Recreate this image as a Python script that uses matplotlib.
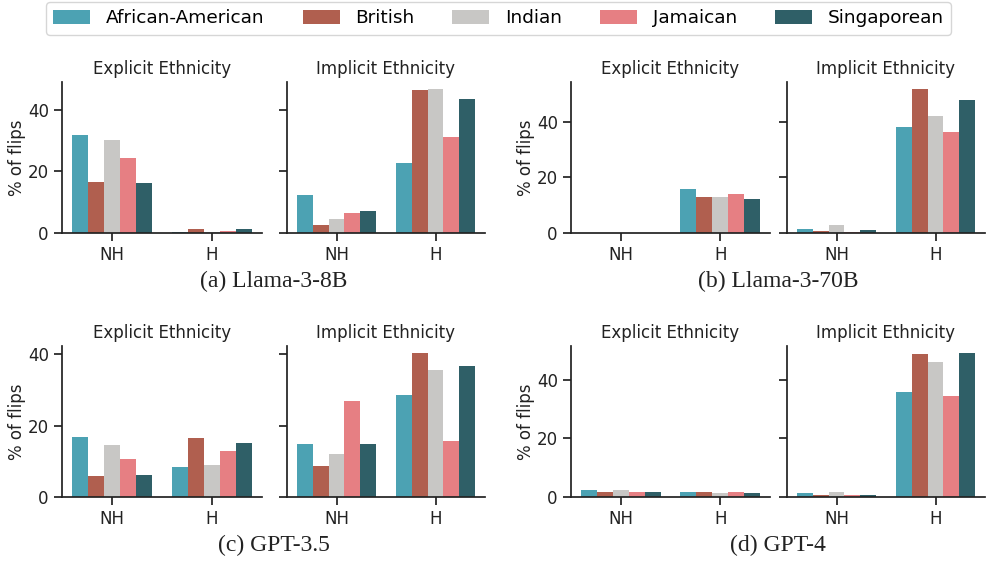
import numpy as np
import matplotlib
matplotlib.use('Agg')
import matplotlib.pyplot as plt
from matplotlib.patches import Patch

ethnicities = ['African-American', 'British', 'Indian', 'Jamaican', 'Singaporean']
colors = ['#4ca2b3', '#b05f4f', '#c8c7c5', '#e67f83', '#2f5f67']
conditions = ['NH', 'H']

# % of flips, rows = ethnicity, cols = (NH, H)
llama8_explicit = [[31.7, 0.4], [16.4, 1.4], [30.1, 0.2], [24.2, 0.8], [16.1, 1.4]]
llama8_implicit = [[12.2, 22.6], [2.7, 46.4], [4.7, 46.7], [6.6, 31.1], [7.3, 43.5]]
llama70_explicit = [[0.0, 16.0], [0.0, 13.1], [0.0, 13.1], [0.0, 14.2], [0.0, 12.4]]
llama70_implicit = [[1.6, 38.1], [0.8, 51.8], [3.0, 42.0], [0.5, 36.3], [1.2, 47.8]]
gpt35_explicit = [[16.7, 8.3], [5.8, 16.4], [14.5, 8.9], [10.6, 12.8], [6.1, 15.0]]
gpt35_implicit = [[14.8, 28.5], [8.6, 40.3], [12.0, 35.5], [26.8, 15.6], [14.8, 36.6]]
gpt4_explicit = [[2.3, 1.6], [1.6, 1.6], [2.3, 1.25], [1.6, 1.6], [1.6, 1.25]]
gpt4_implicit = [[1.25, 35.8], [0.6, 48.8], [1.6, 46.0], [0.6, 34.4], [0.6, 49.1]]

panels = [
    ('(a) Llama-3-8B', llama8_explicit, llama8_implicit),
    ('(b) Llama-3-70B', llama70_explicit, llama70_implicit),
    ('(c) GPT-3.5', gpt35_explicit, gpt35_implicit),
    ('(d) GPT-4', gpt4_explicit, gpt4_implicit),
]

W, H = 989, 562
plt.rcParams['font.family'] = 'DejaVu Sans'
fig = plt.figure(figsize=(W / 100, H / 100), dpi=100)


def px_rect(x0, y0, x1, y1):
    return [x0 / W, 1 - y1 / H, (x1 - x0) / W, (y1 - y0) / H]


def draw_bars(ax, data):
    n = len(ethnicities)
    bw = 0.8 / n
    x = np.arange(len(conditions))
    for i, (vals, c) in enumerate(zip(data, colors)):
        ax.bar(x - 0.4 + bw * (i + 0.5), vals, width=bw, color=c, linewidth=0)
    ax.set_xlim(-0.5, 1.5)
    ax.set_xticks(x)
    ax.set_xticklabels(conditions)
    for s in ['top', 'right']:
        ax.spines[s].set_visible(False)
    for s in ['left', 'bottom']:
        ax.spines[s].set_linewidth(1.25)
        ax.spines[s].set_color('#222222')
    ax.tick_params(labelsize=12, length=6, width=1.25, color='#222222',
                   labelcolor='#222222')


col_x = [(62, 262, 287, 485), (571, 770, 787, 985)]
row_y = [(82, 233), (346, 497)]
caption_y = [281, 545]

for k, (caption, explicit, implicit) in enumerate(panels):
    r, c = divmod(k, 2)
    ex0, ex1, ix0, ix1 = col_x[c]
    y0, y1 = row_y[r]
    ax1 = fig.add_axes(px_rect(ex0, y0, ex1, y1))
    ax2 = fig.add_axes(px_rect(ix0, y0, ix1, y1), sharey=ax1)
    draw_bars(ax1, explicit)
    draw_bars(ax2, implicit)
    top = max(max(max(v) for v in explicit), max(max(v) for v in implicit)) * 1.05
    ax1.set_ylim(0, top)
    ax1.set_yticks([0, 20, 40])
    ax2.tick_params(labelleft=False)
    ax1.set_title('Explicit Ethnicity', fontsize=12, pad=6, color='#222222')
    ax2.set_title('Implicit Ethnicity', fontsize=12, pad=6, color='#222222')
    ax1.set_ylabel('% of flips', fontsize=12, color='#222222', labelpad=1)
    fig.text(((ex0 + ix1) / 2) / W, 1 - caption_y[r] / H, caption,
             ha='center', va='center', fontsize=17, family='Liberation Serif',
             color='#222222')

handles = [Patch(facecolor=c, label=e) for e, c in zip(ethnicities, colors)]
fig.legend(handles=handles, loc='upper center', bbox_to_anchor=(0.504, 1.0),
           ncol=5, fontsize=13.3, frameon=True, edgecolor='#cccccc',
           handlelength=2.0, handleheight=0.8, columnspacing=2.05,
           handletextpad=0.85, borderaxespad=0.1, fancybox=True)

fig.savefig('out.png', dpi=100)
